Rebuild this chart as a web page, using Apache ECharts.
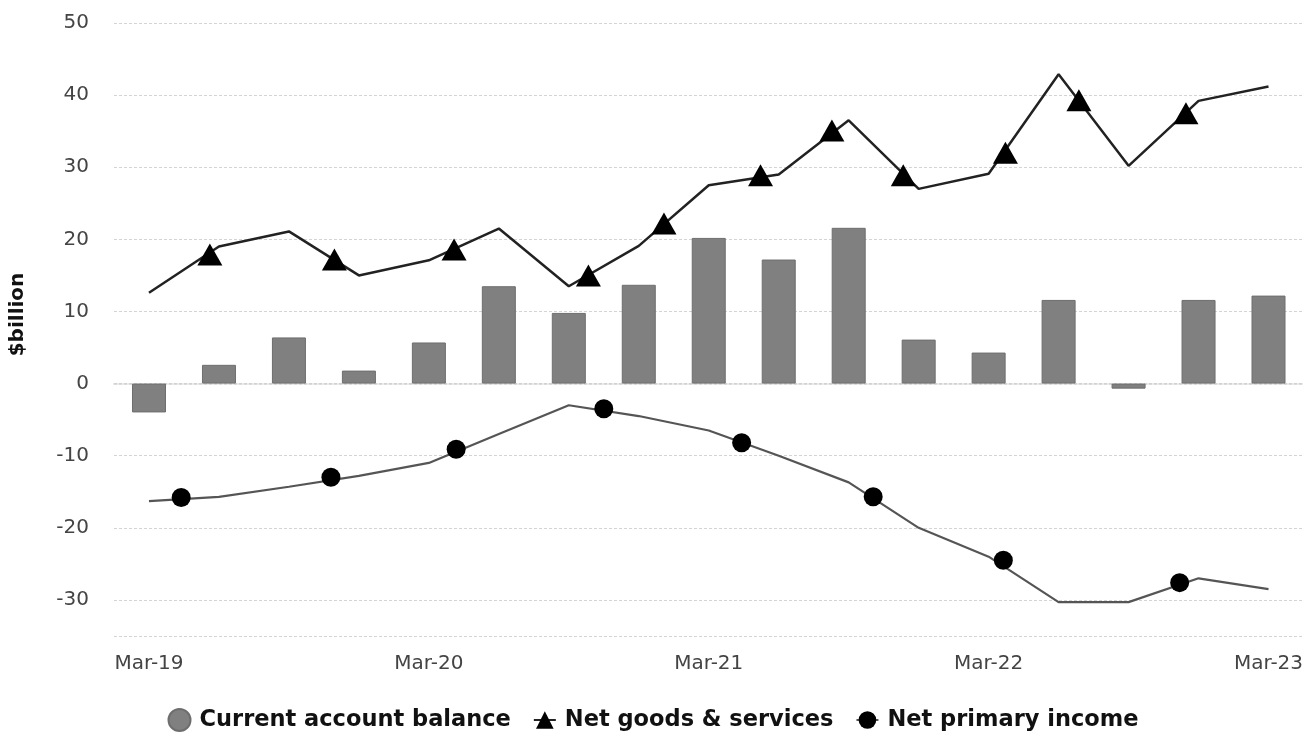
<!DOCTYPE html>
<html>
<head>
<meta charset="utf-8">
<script src="https://cdn.jsdelivr.net/npm/echarts@6/dist/echarts.min.js"></script>
<style>html,body{margin:0;padding:0;background:#fff}#c{width:1306px;height:738px}</style>
</head>
<body>
<div id="c"></div>
<script>
const categories = ['Mar-19','Jun-19','Sep-19','Dec-19','Mar-20','Jun-20','Sep-20','Dec-20','Mar-21','Jun-21','Sep-21','Dec-21','Mar-22','Jun-22','Sep-22','Dec-22','Mar-23'];
const currentAccount = [-4.0, 2.6, 6.4, 1.8, 5.7, 13.5, 9.8, 13.7, 20.2, 17.2, 21.6, 6.1, 4.3, 11.6, -0.7, 11.6, 12.2];
const netGoodsServices = [12.6, 19.0, 21.1, 15.0, 17.1, 21.5, 13.5, 19.1, 27.5, 29.0, 36.5, 27.0, 29.1, 42.9, 30.2, 39.2, 41.2];
const netPrimaryIncome = [-16.3, -15.7, -14.3, -12.8, -11.0, -7.0, -3.0, -4.5, -6.5, -10.0, -13.7, -20.0, -24.0, -30.3, -30.3, -27.0, -28.5];
// marker positions along the lines (quarter index, value)
const goodsMarkerPos = [0.87, 2.65, 4.36, 6.28, 7.36, 8.74, 9.76, 10.78, 12.24, 13.29, 14.82];
const goodsMarkerVal = [17.9, 17.2, 18.6, 15.0, 22.2, 28.9, 35.1, 28.9, 32.0, 39.3, 37.5];
const incomeMarkerPos = [0.46, 2.60, 4.39, 6.50, 8.47, 10.35, 12.21, 14.73];
const incomeMarkerVal = [-15.8, -13.0, -9.1, -3.5, -8.2, -15.7, -24.5, -27.6];
const yTicks = [-30, -20, -10, 0, 10, 20, 30, 40, 50];

const chart = echarts.init(document.getElementById('c'));
const font = 'DejaVu Sans';
chart.setOption({
  animation: false,
  grid: { left: 112, right: 2, top: 23, bottom: 102, containLabel: false },
  legend: {
    bottom: 1,
    left: 'center',
    itemGap: 22,
    itemWidth: 22,
    itemHeight: 22,
    textStyle: { fontFamily: font, fontWeight: 'bold', fontSize: 22.5, color: '#111', padding: [0, 0, 0, 4] },
    data: [
      { name: 'Current account balance', icon: 'circle' },
      { name: 'Net goods & services' },
      { name: 'Net primary income' }
    ]
  },
  xAxis: [
    {
      type: 'category',
      data: categories,
      boundaryGap: true,
      axisTick: { show: false },
      axisLine: { show: true, lineStyle: { color: '#cfcfcf', type: [3, 2], width: 1.5 } },
      axisLabel: { interval: 3, margin: 18, fontFamily: font, fontSize: 20, color: '#444' },
      splitLine: { show: false }
    },
    {
      type: 'value',
      min: -0.5,
      max: 16.5,
      show: false
    }
  ],
  yAxis: {
    type: 'value',
    min: -35,
    max: 50,
    splitNumber: 8,
    name: '$billion',
    nameLocation: 'middle',
    nameGap: 86,
    nameTextStyle: { fontFamily: font, fontWeight: 'bold', fontSize: 20, color: '#111', padding: [0, 0, 0, 30] },
    axisLine: { show: false },
    axisTick: { show: false },
    axisLabel: {
      margin: 25,
      fontFamily: font, fontSize: 20, color: '#444',
      formatter: v => (yTicks.indexOf(v) >= 0 ? String(v) : '')
    },
    splitLine: { show: true, lineStyle: { color: '#d4d4d4', type: [3, 2], width: 1.2 } }
  },
  series: [
    {
      name: 'Current account balance',
      type: 'bar',
      xAxisIndex: 0,
      data: currentAccount,
      barWidth: 34,
      itemStyle: { color: '#808080', borderColor: '#6e6e6e', borderWidth: 1 },
      z: 2
    },
    {
      name: 'Net goods & services',
      type: 'line',
      xAxisIndex: 1,
      data: netGoodsServices.map((v, i) => [i, v]),
      symbol: 'triangle',
      symbolSize: [20, 18],
      showSymbol: false,
      itemStyle: { color: '#000' },
      lineStyle: { color: '#222', width: 2.5 },
      z: 3
    },
    {
      name: 'Net primary income',
      type: 'line',
      xAxisIndex: 1,
      data: netPrimaryIncome.map((v, i) => [i, v]),
      symbol: 'circle',
      symbolSize: 10,
      showSymbol: false,
      itemStyle: { color: '#000' },
      lineStyle: { color: '#555', width: 2.2 },
      z: 3
    },
    {
      name: 'goodsMarkers',
      type: 'scatter',
      xAxisIndex: 1,
      data: goodsMarkerPos.map((p, i) => [p, goodsMarkerVal[i]]),
      symbol: 'triangle',
      symbolSize: [25, 22],
      itemStyle: { color: '#000', opacity: 1 },
      z: 4
    },
    {
      name: 'incomeMarkers',
      type: 'scatter',
      xAxisIndex: 1,
      data: incomeMarkerPos.map((p, i) => [p, incomeMarkerVal[i]]),
      symbol: 'circle',
      symbolSize: 19,
      itemStyle: { color: '#000', opacity: 1 },
      z: 4
    }
  ]
});
</script>
</body>
</html>
